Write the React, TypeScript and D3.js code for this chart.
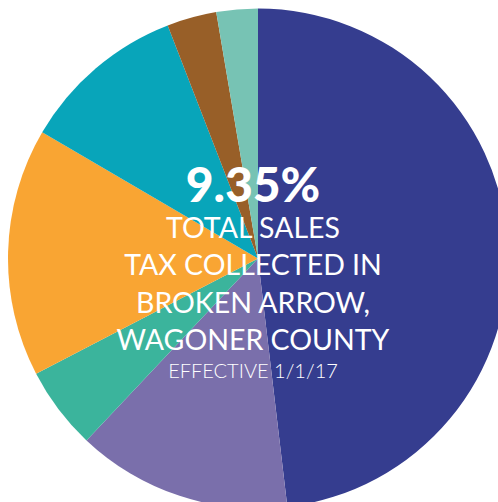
import React from "react";
import * as d3 from "d3";

const categories = [
  "State of Oklahoma",
  "Wagoner County",
  "Category C",
  "Category D",
  "Category E",
  "Category F",
  "Category G",
];
const rates = [4.5, 1.3, 0.5, 1.5, 1.0, 0.3, 0.25];
const colors = ["#353d8f", "#7a6fab", "#3bb49c", "#f9a533", "#08a5ba", "#985f28", "#77c3b4"];
const headline = "9.35%";
const textLines = ["TOTAL SALES", "TAX COLLECTED IN", "BROKEN ARROW,", "WAGONER COUNTY"];
const footnote = "EFFECTIVE 1/1/17";

export default function App() {
  const W = 498;
  const H = 502;
  const cx = 258;
  const cy = 258.5;
  const r = 250;
  const pie = d3
    .pie<number>()
    .sort(null)
    .value((d) => d)
    .startAngle(0)
    .endAngle(2 * Math.PI);
  const arcs = pie(rates);
  const arc = d3.arc<d3.PieArcDatum<number>>().innerRadius(0).outerRadius(r);
  const lineY = d3.scaleLinear().domain([0, 3]).range([238, 350]);
  const tx = 253;
  return (
    <svg
      width={W}
      height={H}
      style={{ position: "absolute", left: 0, top: 0, background: "#fff" }}
    >
      <g transform={`translate(${cx},${cy})`}>
        {arcs.map((a, i) => (
          <path key={categories[i]} d={arc(a) || ""} fill={colors[i]} />
        ))}
      </g>
      <text
        x={tx}
        y={202}
        textAnchor="middle"
        fill="#fff"
        fontFamily="Lato"
        fontWeight={900}
        fontSize={48}
      >
        {headline}
      </text>
      {textLines.map((t, i) => (
        <text
          key={t}
          x={tx}
          y={lineY(i)}
          textAnchor="middle"
          fill="#fff"
          fontFamily="Lato"
          fontWeight={400}
          fontSize={28.5}
        >
          {t}
        </text>
      ))}
      <text
        x={tx}
        y={378}
        textAnchor="middle"
        fill="#fff"
        fontFamily="Lato"
        fontWeight={300}
        fontSize={20}
      >
        {footnote}
      </text>
    </svg>
  );
}
